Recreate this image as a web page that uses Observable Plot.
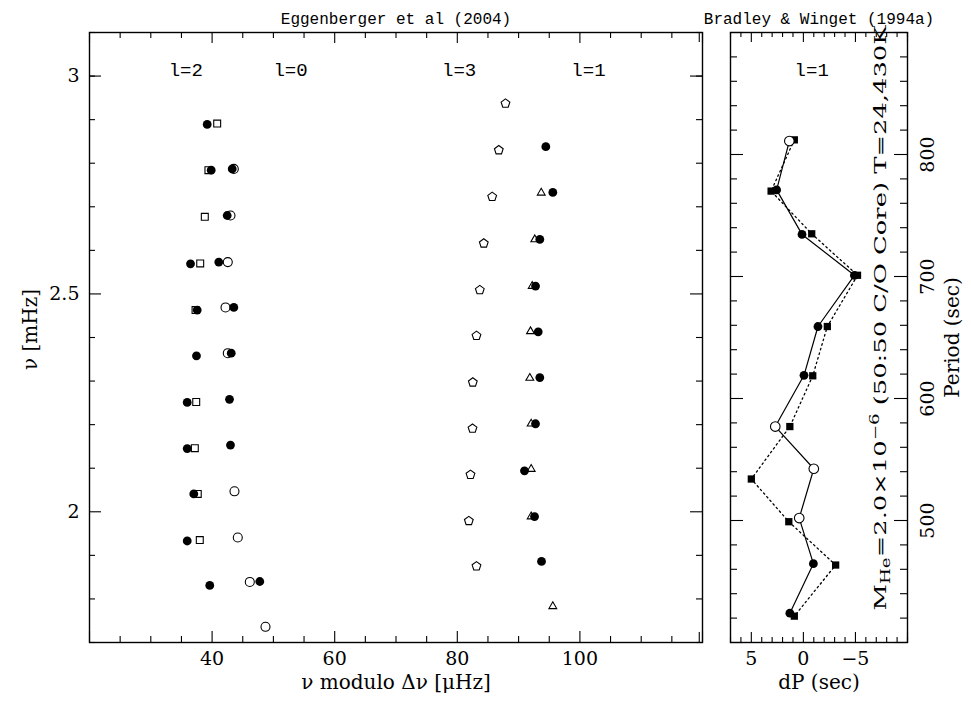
<!DOCTYPE html>
<html><head><meta charset="utf-8">
<script src="https://cdn.jsdelivr.net/npm/d3@7"></script>
<script src="https://cdn.jsdelivr.net/npm/@observablehq/plot@0.6"></script>
<style>
html,body{margin:0;padding:0;background:#fff;}
#wrap{position:relative;width:971px;height:702px;overflow:hidden;background:#fff;}
#wrap svg{position:absolute;top:0;overflow:visible;}
</style></head><body><div id="wrap"></div>
<script>
// ---------- Left panel: Eggenberger et al (2004) echelle diagram [nu mod dnu (μHz), nu (mHz)] ----------
const l2Filled = [[39.2,2.889],[39.85,2.784],[36.48,2.569],[37.57,2.463],[37.45,2.358],[35.94,2.251],[35.94,2.145],[37.01,2.041],[35.94,1.933],[39.62,1.831]];
const l2Squares = [[40.83,2.891],[39.4,2.784],[38.81,2.677],[38.06,2.570],[37.3,2.463],[37.41,2.252],[37.18,2.146],[37.66,2.041],[37.99,1.935]];
const l0Filled = [[43.28,2.787],[42.46,2.680],[41.09,2.573],[43.54,2.469],[43.12,2.364],[42.84,2.258],[43.0,2.153],[47.78,1.840]];
const l0Open = [[43.54,2.787],[43.0,2.680],[42.56,2.573],[42.19,2.469],[42.56,2.364],[43.65,2.047],[44.19,1.941],[46.15,1.839],[48.71,1.736]];
const l3Pentagons = [[87.86,2.937],[86.77,2.830],[85.69,2.723],[84.32,2.616],[83.67,2.509],[83.13,2.404],[82.53,2.297],[82.48,2.191],[82.15,2.085],[81.88,1.979],[83.13,1.875]];
const l1Filled = [[94.44,2.838],[95.58,2.733],[93.46,2.625],[92.76,2.518],[93.2,2.413],[93.46,2.308],[92.76,2.202],[90.96,2.094],[92.6,1.989],[93.74,1.886]];
const l1Triangles = [[93.69,2.732],[92.64,2.625],[92.22,2.518],[91.94,2.414],[91.83,2.307],[92.05,2.202],[92.05,2.098],[92.05,1.989],[95.58,1.783]];
const leftLabels = [{x:35.7,y:3.014,t:"l=2"},{x:52.8,y:3.014,t:"l=0"},{x:80.3,y:3.014,t:"l=3"},{x:101.4,y:3.014,t:"l=1"}];
const leftXLabels = [40, 60, 80, 100];
const leftXMajor = [20, 40, 60, 80, 100, 120];
const leftXMinor = [25, 30, 35, 45, 50, 55, 65, 70, 75, 85, 90, 95, 105, 110, 115];
const leftYLabels = [2, 2.5, 3];
const leftYMinor = [1.7, 1.8, 1.9, 2.1, 2.2, 2.3, 2.4, 2.6, 2.7, 2.8, 2.9, 3.0, 3.1];

// ---------- Right panel: Bradley & Winget (1994a) model [dP (sec), Period (sec)] ----------
const modelPeriod = [811, 771, 734.5, 701, 659, 619, 577, 542.4, 502, 464.6, 424];
const modelDP = [1.35, 2.57, 0.13, -4.9, -1.4, -0.06, 2.7, -1.0, 0.4, -0.96, 1.3];
const modelFilled = [false, true, true, true, true, true, false, false, false, true, true];
const sqPeriod = [812, 770, 735, 701, 659, 618.6, 577, 534, 499, 463.5, 421.6];
const sqDP = [0.87, 3.1, -0.8, -5.2, -2.3, -0.9, 1.3, 5.0, 1.4, -3.1, 0.87];
const rightXLabels = [5, 0, -5];
const rightXMinor = [-10,-9,-8,-7,-6,-4,-3,-2,-1,1,2,3,4,6,7];
const rightYLabels = [500, 600, 700, 800];
const rightYMajor = [400, 500, 600, 700, 800, 900];
const rightYMinor = [420,440,460,480,520,540,560,580,620,640,660,680,720,740,760,780,820,840,860,880];
const modelTextParts = [["M",""],["He","sub"],["=2.0×10",""],["−6","sup"],[" (50:50 C/O Core) T=24,430K",""]];

const serif = "DejaVu Serif";
const mono = "Liberation Mono";

const pentagon = {
  draw(ctx, size) {
    const r = Math.sqrt(size / Math.PI);
    for (let i = 0; i < 5; i++) {
      const a = -Math.PI / 2 + i * 2 * Math.PI / 5;
      const px = r * Math.cos(a), py = r * Math.sin(a);
      if (i) ctx.lineTo(px, py); else ctx.moveTo(px, py);
    }
    ctx.closePath();
  }
};

function boxTicks(innerW, innerH, xMaj, xMin, yMaj, yMin, lenX, lenY) {
  const sw = 1.1;
  const m = [];
  for (const [vals, L] of [[xMaj, lenX[0]], [xMin, lenX[1]]]) {
    m.push(Plot.tickX(vals, {x: d => d, insetTop: innerH - L, stroke: "black", strokeWidth: sw}));
    m.push(Plot.tickX(vals, {x: d => d, insetBottom: innerH - L, stroke: "black", strokeWidth: sw}));
  }
  for (const [vals, L] of [[yMaj, lenY[0]], [yMin, lenY[1]]]) {
    m.push(Plot.tickY(vals, {y: d => d, insetRight: innerW - L, stroke: "black", strokeWidth: sw}));
    m.push(Plot.tickY(vals, {y: d => d, insetLeft: innerW - L, stroke: "black", strokeWidth: sw}));
  }
  return m;
}

const H = 702;
const L = {w: 720, ml: 89, mr: 18, mt: 32, mb: 60};
const Linner = {w: L.w - L.ml - L.mr, h: H - L.mt - L.mb};

const leftPlot = Plot.plot({
  width: L.w, height: H,
  marginLeft: L.ml, marginRight: L.mr, marginTop: L.mt, marginBottom: L.mb,
  x: {domain: [20, 120], axis: null},
  y: {domain: [1.70, 3.10], axis: null},
  style: {fontFamily: serif, fontSize: "19px", background: "transparent", color: "black"},
  marks: [
    ...boxTicks(Linner.w, Linner.h, leftXMajor, leftXMinor, [2, 2.5, 3], leftYMinor, [11, 6], [12, 6]),
    Plot.frame({stroke: "black", strokeWidth: 1.4}),
    Plot.axisX(leftXLabels, {tickSize: 0, tickPadding: 9, label: null, fontSize: 19}),
    Plot.axisY(leftYLabels, {tickSize: 0, tickPadding: 10, label: null, fontSize: 19, tickFormat: d => String(d)}),
    Plot.text(["ν modulo Δν [μHz]"], {frameAnchor: "bottom", dy: 46, fontSize: 20}),
    Plot.text(["ν [mHz]"], {frameAnchor: "left", dx: -59, dy: -8, rotate: -90, textAnchor: "middle", fontSize: 20}),
    Plot.text(["Eggenberger et al (2004)"], {frameAnchor: "top", dy: -20, fontSize: 16, fontFamily: mono}),
    Plot.text(leftLabels, {x: "x", y: "y", text: "t", fontSize: 19, fontFamily: mono}),
    // l=2
    Plot.dot(l2Squares, {x: d => d[0], y: d => d[1], symbol: "square", r: 3.9, fill: "white", stroke: "black", strokeWidth: 1.1}),
    Plot.dot(l2Filled, {x: d => d[0], y: d => d[1], symbol: "circle", r: 4.4, fill: "black", stroke: "none"}),
    // l=0
    Plot.dot(l0Open, {x: d => d[0], y: d => d[1], symbol: "circle", r: 4.5, fill: "white", stroke: "black", strokeWidth: 1.1}),
    Plot.dot(l0Filled, {x: d => d[0], y: d => d[1], symbol: "circle", r: 4.4, fill: "black", stroke: "none"}),
    // l=3
    Plot.dot(l3Pentagons, {x: d => d[0], y: d => d[1], symbol: pentagon, r: 4.6, fill: "white", stroke: "black", strokeWidth: 1.1}),
    // l=1
    Plot.dot(l1Triangles, {x: d => d[0], y: d => d[1], symbol: "triangle", r: 2.9, fill: "white", stroke: "black", strokeWidth: 1.1}),
    Plot.dot(l1Filled, {x: d => d[0], y: d => d[1], symbol: "circle", r: 4.4, fill: "black", stroke: "none"})
  ]
});

const R = {left: 710, w: 261, ml: 20, mr: 64, mt: 32, mb: 60};
const Rinner = {w: R.w - R.ml - R.mr, h: H - R.mt - R.mb};
const modelPts = modelPeriod.map((p, i) => ({p, dp: modelDP[i], filled: modelFilled[i]}));
const sqPts = sqPeriod.map((p, i) => ({p, dp: sqDP[i]}));

const rightPlot = Plot.plot({
  width: R.w, height: H,
  marginLeft: R.ml, marginRight: R.mr, marginTop: R.mt, marginBottom: R.mb,
  x: {domain: [7, -10], axis: null},
  y: {domain: [400, 900], axis: null},
  style: {fontFamily: serif, fontSize: "19px", background: "transparent", color: "black", overflow: "visible"},
  marks: [
    ...boxTicks(Rinner.w, Rinner.h, [10, 5, 0, -5, -10], rightXMinor, rightYMajor, rightYMinor, [10, 5], [13, 7]),
    Plot.frame({stroke: "black", strokeWidth: 1.4}),
    Plot.axisX(rightXLabels, {tickSize: 0, tickPadding: 9, label: null, fontSize: 19, tickFormat: d => d < 0 ? "−" + (-d) : String(d)}),
    Plot.text(rightYLabels, {y: d => d, text: d => String(d), frameAnchor: "right", dx: 13, rotate: -90, lineAnchor: "top", textAnchor: "middle", fontSize: 19}),
    Plot.text(["Period (sec)"], {frameAnchor: "right", dx: 37, rotate: -90, lineAnchor: "top", textAnchor: "middle", fontSize: 20}),
    Plot.text(["dP (sec)"], {frameAnchor: "bottom", dy: 46, fontSize: 20}),
    Plot.text(["Bradley & Winget (1994a)"], {frameAnchor: "top", dy: -20, fontSize: 16, fontFamily: mono}),
    Plot.text([{x: -0.8, y: 869, t: "l=1"}], {x: "x", y: "y", text: "t", fontSize: 19, fontFamily: mono}),
    Plot.text([{x: -7.4, y: 666, t: modelTextParts.map(d => d[0]).join("")}], {x: "x", y: "y", text: "t", rotate: -90, textAnchor: "middle", fontSize: 17}),
    Plot.line(sqPts, {x: "dp", y: "p", stroke: "black", strokeWidth: 1.3, strokeDasharray: "1.6,3.2"}),
    Plot.line(modelPts, {x: "dp", y: "p", stroke: "black", strokeWidth: 1.2}),
    Plot.dot(sqPts, {x: "dp", y: "p", symbol: "square", r: 4.1, fill: "black", stroke: "none"}),
    Plot.dot(modelPts.filter(d => !d.filled), {x: "dp", y: "p", symbol: "circle", r: 4.8, fill: "white", stroke: "black", strokeWidth: 1.1}),
    Plot.dot(modelPts.filter(d => d.filled), {x: "dp", y: "p", symbol: "circle", r: 4.4, fill: "black", stroke: "none"})
  ]
});

// Rebuild the model annotation with sub/superscripts, stretched to the reference length
const tEl = [...rightPlot.querySelectorAll("text")].find(e => e.textContent.includes("Core"));
if (tEl) {
  tEl.textContent = "";
  const ns = "http://www.w3.org/2000/svg";
  let shift = 0;
  for (const [s, kind] of modelTextParts) {
    const ts = document.createElementNS(ns, "tspan");
    const target = kind === "sub" ? 4 : kind === "sup" ? -7 : 0;
    ts.setAttribute("dy", String(target - shift));
    shift = target;
    if (kind) ts.setAttribute("font-size", "12");
    ts.textContent = s;
    tEl.appendChild(ts);
  }
  tEl.setAttribute("textLength", "585");
  tEl.setAttribute("lengthAdjust", "spacingAndGlyphs");
}

leftPlot.style.left = "0px";
rightPlot.style.left = R.left + "px";
const wrap = document.getElementById("wrap");
wrap.appendChild(leftPlot);
wrap.appendChild(rightPlot);
</script></body></html>
